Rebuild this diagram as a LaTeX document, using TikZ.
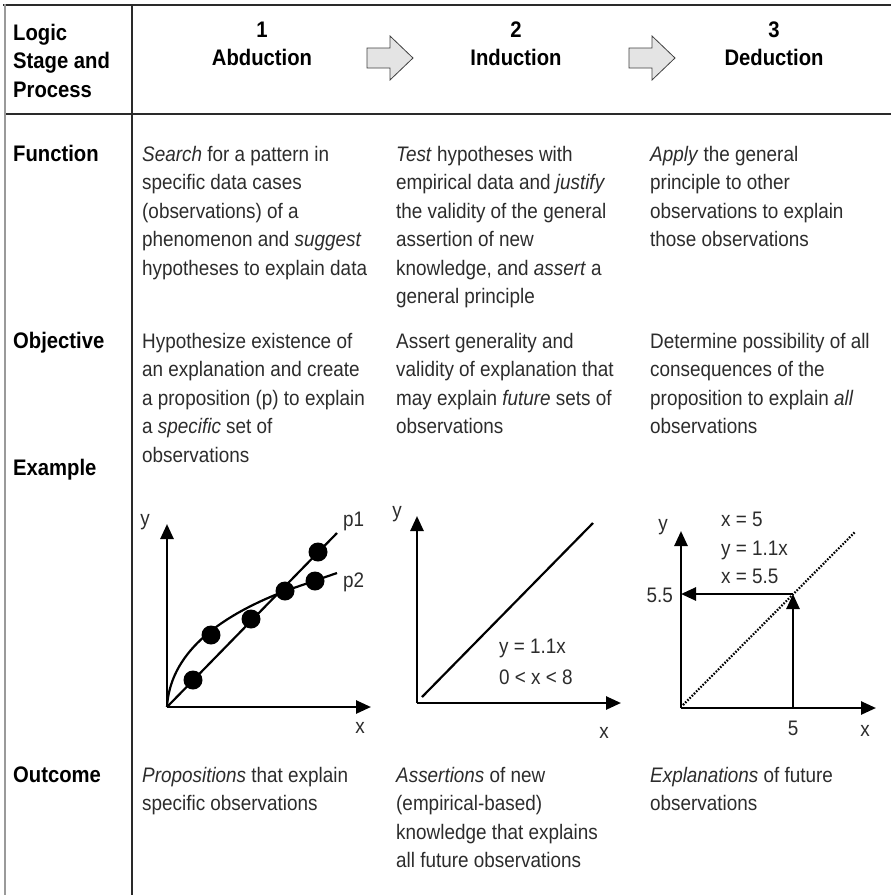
\documentclass[tikz,border=0pt]{standalone}
\usepackage{fontspec}
\setmainfont{Liberation Sans}[FakeStretch=0.9]
\usetikzlibrary{arrows.meta}
\definecolor{ink}{HTML}{2c2c2c}
\definecolor{rulecol}{HTML}{2a2a2a}
\definecolor{edgecol}{HTML}{9a9a9a}
\definecolor{arrowfill}{HTML}{E4E4E4}
\newcommand\cellfont{\fontsize{21}{28.5}\selectfont}
\newcommand\headfont{\fontsize{22.5}{28.5}\selectfont\bfseries}
% fixed-height strut: the top of every text block lies 18pt above its first baseline
\newcommand\cellstrut{\rule{0pt}{18pt}}
\begin{document}
\begin{tikzpicture}[x=1pt,y=-1pt,
  txt/.style={anchor=north west, inner sep=0pt, align=left, text=ink, font=\cellfont},
  lbl/.style={anchor=north west, inner sep=0pt, align=left, text=black, font=\headfont},
  stage/.style={anchor=north, inner sep=0pt, align=center, text=black, font=\headfont},
  rule/.style={line width=1.6pt, draw=rulecol},
  edge/.style={line width=2.4pt, draw=edgecol},
  axis/.style={line width=2.6pt, -{Triangle[length=15pt,width=13pt]}},
  plot/.style={line width=2.2pt},
  dot/.style={circle, fill=black, minimum size=19pt, inner sep=0pt},
  gtxt/.style={inner sep=0pt, text=ink, font=\cellfont},
  blockarrow/.style={fill=arrowfill, draw=black!75, line width=0.8pt, line join=miter}]

\path[use as bounding box] (0,0) rectangle (891,895);

% table rules
\draw[rule] (3,5) -- (891,5);
\draw[rule] (5,114) -- (891,114);
\draw[rule] (132,5) -- (132,895);
\draw[edge] (5,4) -- (5,895);

% header (first baselines at 40 and 37)
\node[lbl] (hdr) at (13,22) {\cellstrut Logic\\Stage and\\Process};
\node[stage] (s1) at (262,19) {\cellstrut 1\\Abduction};
\node[stage] (s2) at (516,19) {\cellstrut 2\\Induction};
\node[stage] (s3) at (774,19) {\cellstrut 3\\Deduction};
\draw[blockarrow] (367,48) -- (390,48) -- (390,36) -- (413,58) -- (390,80) -- (390,68) -- (367,68) -- cycle;
\draw[blockarrow] (629,48) -- (652,48) -- (652,36) -- (675,58) -- (652,80) -- (652,68) -- (629,68) -- cycle;

% row labels
\node[lbl] (lf) at (13,143) {\cellstrut Function};
\node[lbl] (lo) at (13,330) {\cellstrut Objective};
\node[lbl] (le) at (13,457) {\cellstrut Example};
\node[lbl] (lu) at (13,764) {\cellstrut Outcome};

% function row (first baseline 161)
\node[txt] (f1) at (142,143) {\cellstrut\textit{Search} for a pattern in\\specific data cases\\(observations) of a\\phenomenon and \textit{suggest}\\hypotheses to explain data};
\node[txt] (f2) at (396,143) {\cellstrut\textit{Test} hypotheses with\\empirical data and \textit{justify}\\the validity of the general\\assertion of new\\knowledge, and \textit{assert} a\\general principle};
\node[txt] (f3) at (650,143) {\cellstrut\textit{Apply} the general\\principle to other\\observations to explain\\those observations};

% objective row (first baseline 348)
\node[txt] (o1) at (142,330) {\cellstrut Hypothesize existence of\\an explanation and create\\a proposition (p) to explain\\a \textit{specific} set of\\observations};
\node[txt] (o2) at (396,330) {\cellstrut Assert generality and\\validity of explanation that\\may explain \textit{future} sets of\\observations};
\node[txt] (o3) at (650,330) {\cellstrut Determine possibility of all\\consequences of the\\proposition to explain \textit{all}\\observations};

% outcome row (first baseline 782)
\node[txt] (u1) at (142,764) {\cellstrut\textit{Propositions} that explain\\specific observations};
\node[txt] (u2) at (396,764) {\cellstrut\textit{Assertions} of new\\(empirical-based)\\knowledge that explains\\all future observations};
\node[txt] (u3) at (650,764) {\cellstrut\textit{Explanations} of future\\observations};

% example 1: abduction
\coordinate (a0) at (167,707);
\coordinate (ay) at (167,524);
\coordinate (ax) at (371,707);
\coordinate (ap1) at (337,533);
\coordinate (ap2) at (337,573);
\draw[axis] (a0) -- (ay);
\draw[axis] (a0) -- (ax);
\draw[plot] (a0) -- (ap1);
\draw[plot] (a0) .. controls (170,655) and (215,618) .. (285,591) -- (ap2);
\node[dot] (d1) at (193,680) {};
\node[dot] (d2) at (211,635) {};
\node[dot] (d3) at (251,619) {};
\node[dot] (d4) at (285,591) {};
\node[dot] (d5) at (315,581) {};
\node[dot] (d6) at (318,552) {};
\node[gtxt] (ayl) at (145,522) {y};
\node[gtxt] (axl) at (360,728) {x};
\node[gtxt, anchor=west] (p1l) at (343,521) {p1};
\node[gtxt, anchor=west] (p2l) at (343,582) {p2};

% example 2: induction
\coordinate (b0) at (417,703);
\coordinate (by) at (417,516);
\coordinate (bx) at (621,703);
\coordinate (bs) at (422,697);
\coordinate (be) at (593,523);
\draw[axis] (b0) -- (by);
\draw[axis] (b0) -- (bx);
\draw[plot] (bs) -- (be);
\node[gtxt] (byl) at (397,514) {y};
\node[gtxt] (bxl) at (604,733) {x};
\node[gtxt, anchor=west] (beq) at (499,648) {y = 1.1x};
\node[gtxt, anchor=west] (bdom) at (499,677) {0 < x < 8};

% example 3: deduction
\coordinate (c0) at (681,708);
\coordinate (cy) at (681,531);
\coordinate (cx) at (876,708);
\coordinate (cs) at (683,705);
\coordinate (ce) at (855,532);
\coordinate (c5) at (793,708);
\coordinate (cp) at (793,594);
\coordinate (c55) at (681,594);
\draw[line width=2.2pt, dash pattern=on 1.6pt off 1.5pt] (cs) -- (ce);
\draw[axis] (c0) -- (cy);
\draw[axis] (c0) -- (cx);
\draw[axis] (c5) -- (cp);
\draw[axis] (cp) -- (c55);
\node[gtxt] (cyl) at (663,527) {y};
\node[gtxt] (cxl) at (865,731) {x};
\node[gtxt] (c5l) at (793,728) {5};
\node[gtxt, anchor=east] (c55l) at (673,595) {5.5};
\node[gtxt, anchor=west, align=left] (ceq) at (721,548) {x = 5\\y = 1.1x\\x = 5.5};
\end{tikzpicture}
\end{document}
